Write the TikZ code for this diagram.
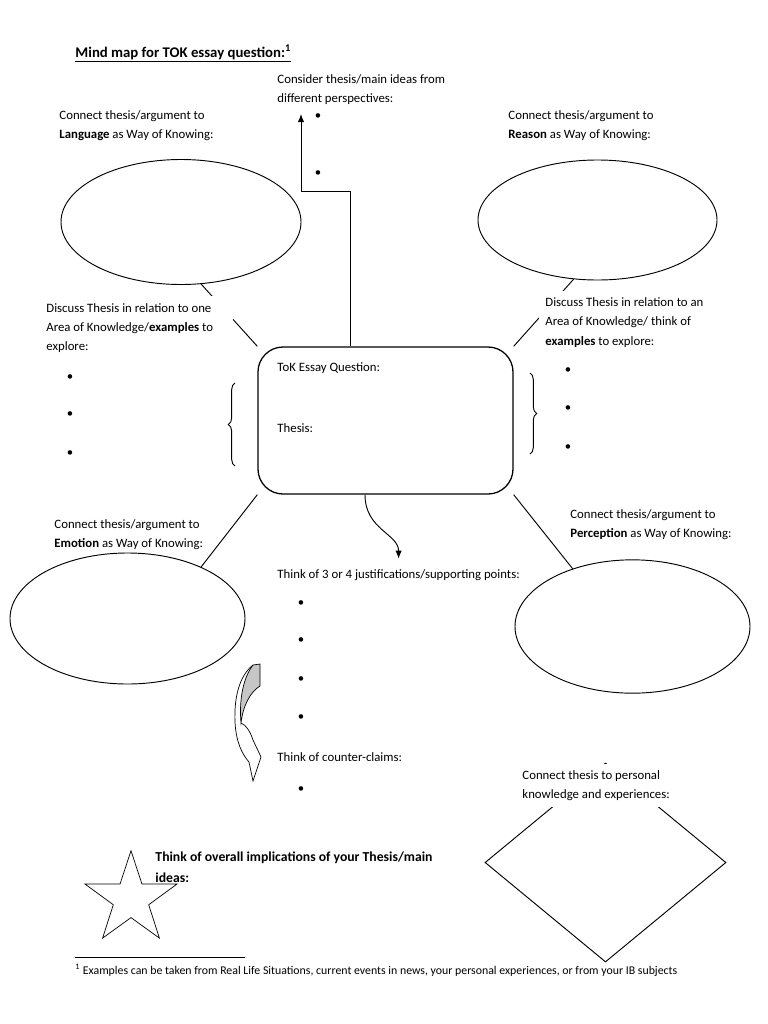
\documentclass[tikz,border=0pt]{standalone}
\usepackage{fontspec}
\setmainfont{Carlito}
\usetikzlibrary{arrows.meta,shapes.geometric,decorations.pathreplacing,calc}

\begin{document}
\begin{tikzpicture}[x=0.03cm, y=-0.03cm, line width=0.8pt,
  every node/.style={font=\fontsize{10.9}{16.6}\selectfont},
  >={Latex[length=2.4mm, width=1.9mm]},
  txt/.style={anchor=base west, align=left, inner sep=0pt},
  cover/.style={anchor=base west, align=left, fill=white, inner sep=0.2cm},
  blob/.style={draw, ellipse, inner sep=0pt},
  dot/.style={inner sep=0pt}]
	\path[fill=white] (0,0) rectangle (768,1024);
	\useasboundingbox (0,0) rectangle (768,1024);

	\node[txt, font=\bfseries\fontsize{12.6}{15}\selectfont] (title) at (75,57) {\underline{Mind map for TOK essay question:\textsuperscript{1}}};

	% the four ways of knowing
	\node[blob, minimum width=7.2cm, minimum height=3.75cm] (lang) at (181,222) {};
	\node[blob, minimum width=7.17cm, minimum height=3.6cm] (reas) at (597.5,220) {};
	\node[blob, minimum width=7.05cm, minimum height=3.93cm] (emot) at (127.5,618.5) {};
	\node[blob, minimum width=7.05cm, minimum height=4.0cm] (perc) at (632.5,626.5) {};

	% essay question in the middle
	\node[draw, rounded corners=0.75cm, line width=1.1pt, minimum width=7.65cm, minimum height=4.41cm] (ess) at (385.5,420.5) {};
	\node[txt] (tokq) at (277,371) {ToK Essay Question:};
	\node[txt] (thes) at (277,432) {Thesis:};

	\draw (ess.north west) -- (lang.288);
	\draw (ess.north east) -- (reas.248);
	\draw (ess.south west) -- (emot.35);
	\draw (ess.south east) -- (perc.136);

	% (base of a two-line node = its last line)
	\node[txt] (langtxt) at (59,138.5) {Connect thesis/argument to\\\textbf{Language} as Way of Knowing:};
	\node[txt] (reastxt) at (508,138.5) {Connect thesis/argument to\\\textbf{Reason} as Way of Knowing:};
	\node[txt] (emottxt) at (54,547.5) {Connect thesis/argument to\\\textbf{Emotion} as Way of Knowing:};
	\node[cover] (perctxt) at (563.3,537.5) {Connect thesis/argument to\\\textbf{Perception} as Way of Knowing:};

	% perspectives
	\node[txt] (persp) at (277,102.5) {Consider thesis/main ideas from\\different perspectives:};
	\coordinate (persptip) at (301,114);
	\draw[->] ($(ess.north west)!0.365!(ess.north east)$) -- ++(0,-155) -| (persptip);
	\foreach \y in {117,174}
		\node[dot] (pp\y) at (318,\y) {\textbullet};

	% areas of knowledge (text width: base = first line)
	\node[cover, align=flush left, text width=5.4cm] (aokl) at (39.3,312) {Discuss Thesis in relation to one\\Area of Knowledge/\textbf{examples} to\\explore:};
	\foreach \y in {378,415,454}
		\node[dot] (al\y) at (70,\y) {\textbullet};
	\draw[decorate, decoration={brace, amplitude=0.2cm}] (235,466) -- (235,383);

	\node[cover] (aokr) at (538.3,345) {Discuss Thesis in relation to an\\Area of Knowledge/ think of\\\textbf{examples} to explore:};
	\foreach \y in {371,409,448}
		\node[dot] (ar\y) at (568,\y) {\textbullet};
	\draw[decorate, decoration={brace, amplitude=0.2cm}] (530,373) -- (530,454);

	% justifications and counter-claims
	\node[txt] (just) at (277,578) {Think of 3 or 4 justifications/supporting points:};
	\draw[->, shorten >=0.3cm] ($(ess.south west)!0.42!(ess.south east)$) .. controls +(0,35) and +(0,-35) .. (just.north);
	\foreach \y in {604,641,680,718}
		\node[dot] (jp\y) at (301,\y) {\textbullet};
	\node[txt] (counter) at (277,761) {Think of counter-claims:};
	\node[dot] (cp) at (301,790) {\textbullet};

	% curved block arrow
	\draw[fill=gray!45, line width=0.6pt] (253,665) -- (260,664) -- (260,686) .. controls (250,692) and (243,706) .. (241,723) .. controls (239,700) and (243,678) .. (253,665) -- cycle;
	\draw[line width=0.6pt] (253,665) .. controls (239,676) and (234,698) .. (235,722) .. controls (236,742) and (242,754) .. (249,762) -- (253,781) -- (261,757) -- (253,740) .. controls (250,731) and (246,725) .. (241,723);

	% personal knowledge
	\node[draw, diamond, minimum width=7.23cm, minimum height=5.97cm, inner sep=0pt] (pers) at (605.5,862.5) {};
	\node[cover, inner ysep=0.18cm, inner xsep=0.15cm] (perstxt) at (517,798.5) {Connect thesis to personal\\knowledge and experiences:};

	% implications
	\node[draw, star, star points=5, star point ratio=2.6, minimum size=2.9cm, inner sep=0pt, line width=0.6pt] (impl) at (131,899) {};
	\node[txt, font=\bfseries\fontsize{11.7}{17.9}\selectfont] (impltxt) at (155,882) {Think of overall implications of your Thesis/main\\ideas:};

	% footnote
	\draw (75,957) -- (245,957);
	\node[txt, font=\fontsize{10.1}{12}\selectfont] (foot) at (75,974) {\textsuperscript{1} Examples can be taken from Real Life Situations, current events in news, your personal experiences, or from your IB subjects};
\end{tikzpicture}
\end{document}
